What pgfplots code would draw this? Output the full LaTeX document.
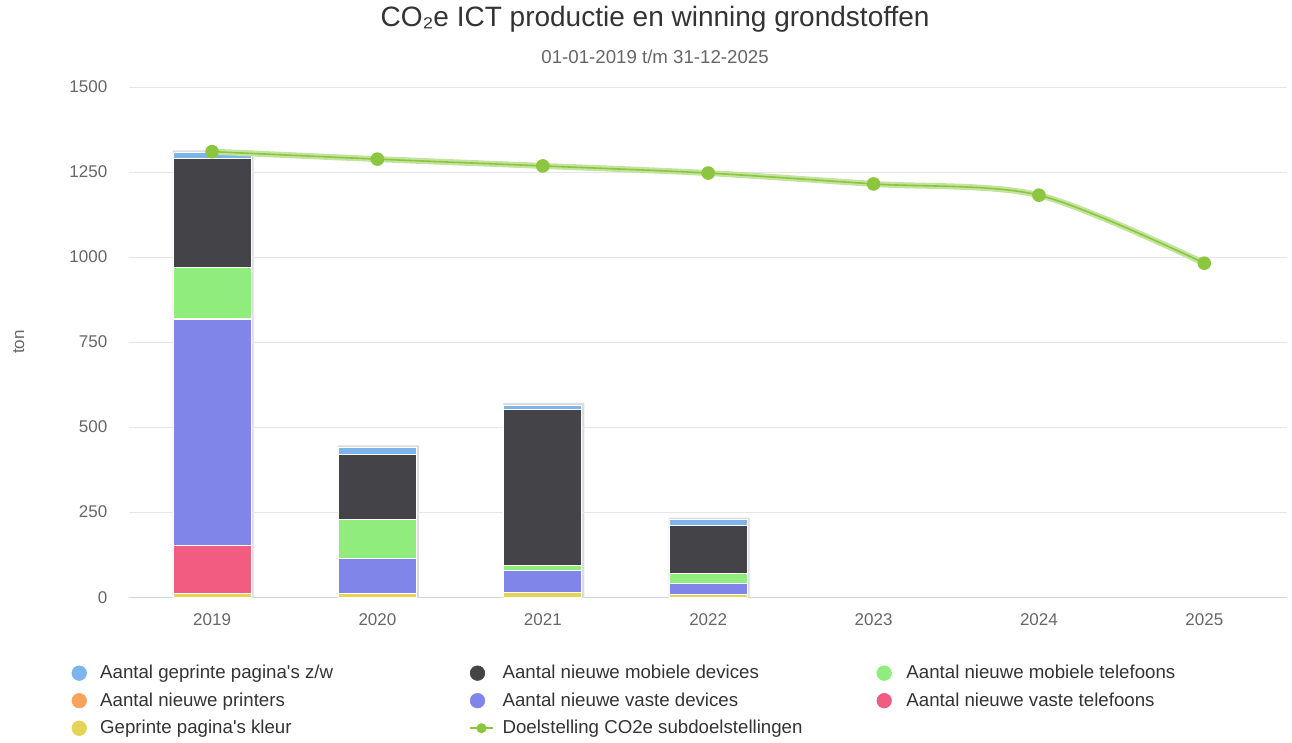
\documentclass[border=0pt]{standalone}
\usepackage{fontspec}
\setmainfont{Liberation Sans}
\usepackage{pgfplots}
\pgfplotsset{compat=1.18}

\definecolor{czw}{HTML}{7CB5EC}
\definecolor{cmobdev}{HTML}{434348}
\definecolor{cmobtel}{HTML}{90ED7D}
\definecolor{cprint}{HTML}{F7A35C}
\definecolor{cvastdev}{HTML}{8085E9}
\definecolor{cvasttel}{HTML}{F15C80}
\definecolor{ckleur}{HTML}{E4D354}
\definecolor{cline}{HTML}{8CC63F}
\definecolor{cglow}{HTML}{C2E49E}
\definecolor{cgrid}{HTML}{E6E6E6}
\definecolor{caxis}{HTML}{CCD6EB}
\definecolor{ctext}{HTML}{666666}
\definecolor{ctitle}{HTML}{333333}
\definecolor{cshadow}{HTML}{DCDCE0}

\pgfplotsset{
  base/.style={scale only axis, width=868pt, height=382.5pt,
    xmin=-0.5, xmax=6.5, ymin=0, ymax=1500},
  legmark/.style={legend image code/.code={\fill[#1] (5.5pt,0pt) circle (5.5pt);}},
}

\begin{document}
\begin{tikzpicture}
\useasboundingbox (-97pt,-108.75pt) rectangle (871.75pt,447.75pt);
% bar shadows
\begin{axis}[base, hide axis, ybar, bar width=0.49]
\addplot[fill=cshadow, draw=none, bar shift=0.006] coordinates {(0,1314)(1,446)(2,571)(3,234)};
\end{axis}
\begin{axis}[
  base,
  xtick={0,...,6}, xticklabels={2019,2020,2021,2022,2023,2024,2025},
  ytick={0,250,...,1500},
  axis x line*=bottom, axis y line*=left,
  x axis line style={caxis, line width=0.75pt},
  y axis line style={draw=none},
  major tick length=0pt,
  ymajorgrids, grid style={cgrid, line width=0.75pt},
  tick label style={font=\fontsize{12.75}{15}\selectfont, text=ctext},
  /pgf/number format/assume math mode=true,
  /pgf/number format/1000 sep={},
  yticklabel style={xshift=-13pt},
  xticklabel style={yshift=-9pt},
  ylabel={ton},
  every axis y label/.style={at={(axis description cs:-0.0956,0.5)}, rotate=90, anchor=center,
    font=\fontsize{12.75}{15}\selectfont, text=ctext},
  ybar stacked, bar width=0.472,
]
% stacked from bottom to top
\addplot[fill=ckleur, draw=white, line width=0.75pt] coordinates {(0,11)(1,11)(2,14)(3,9)};
\addplot[fill=cvasttel, draw=white, line width=0.75pt] coordinates {(0,142)(1,0)(2,0)(3,0)};
\addplot[fill=cvastdev, draw=white, line width=0.75pt] coordinates {(0,664)(1,103)(2,65)(3,31)};
\addplot[fill=cprint, draw=white, line width=0.75pt] coordinates {(0,3)(1,0)(2,0)(3,0)};
\addplot[fill=cmobtel, draw=white, line width=0.75pt] coordinates {(0,150)(1,115)(2,15)(3,31)};
\addplot[fill=cmobdev, draw=white, line width=0.75pt] coordinates {(0,320)(1,189)(2,458)(3,141)};
\addplot[fill=czw, draw=white, line width=0.75pt] coordinates {(0,18)(1,22)(2,13)(3,16)};
\end{axis}
\begin{axis}[
  base,
  hide axis,
  legend columns=3,
  legend cell align=left,
  legend style={at={(axis description cs:-0.0501,-0.128)}, anchor=north west,
    draw=none, fill=none, inner sep=0pt, row sep=5pt,
    font=\fontsize{14}{17}\selectfont, text=ctitle,
    /tikz/column 1/.style={column sep=8pt},
    /tikz/column 2/.style={column sep=100pt},
    /tikz/column 3/.style={column sep=4.5pt},
    /tikz/column 4/.style={column sep=53.5pt},
    /tikz/column 5/.style={column sep=9pt}},
]
\addplot[forget plot, cglow, line width=4.5pt, smooth] coordinates {(0,1310)(1,1288)(2,1268)(3,1247)(4,1215)(5,1182)(6,982)};
\addplot[forget plot, cline, line width=1.2pt, smooth, mark=*, mark size=4.5pt, mark options={draw=none, fill=cline}] coordinates {(0,1310)(1,1288)(2,1268)(3,1247)(4,1215)(5,1182)(6,982)};
\addlegendimage{legmark=czw}
\addlegendentry{Aantal geprinte pagina\textquotesingle s z/w}
\addlegendimage{legmark=cmobdev}
\addlegendentry{Aantal nieuwe mobiele devices}
\addlegendimage{legmark=cmobtel}
\addlegendentry{Aantal nieuwe mobiele telefoons}
\addlegendimage{legmark=cprint}
\addlegendentry{Aantal nieuwe printers}
\addlegendimage{legmark=cvastdev}
\addlegendentry{Aantal nieuwe vaste devices}
\addlegendimage{legmark=cvasttel}
\addlegendentry{Aantal nieuwe vaste telefoons}
\addlegendimage{legmark=ckleur}
\addlegendentry{Geprinte pagina\textquotesingle s kleur}
\addlegendimage{cline, line width=1.5pt, mark=*, mark size=3pt, mark options={draw=none, fill=cline}}
\addlegendentry{Doelstelling CO2e subdoelstellingen}
\end{axis}
\node[font=\fontsize{21}{25}\selectfont, text=ctitle] at (394.2pt,433.5pt) {CO₂e ICT productie en winning grondstoffen};
\node[font=\fontsize{14}{17}\selectfont, text=ctext] at (394.2pt,405pt) {01-01-2019 t/m 31-12-2025};
\end{tikzpicture}
\end{document}
